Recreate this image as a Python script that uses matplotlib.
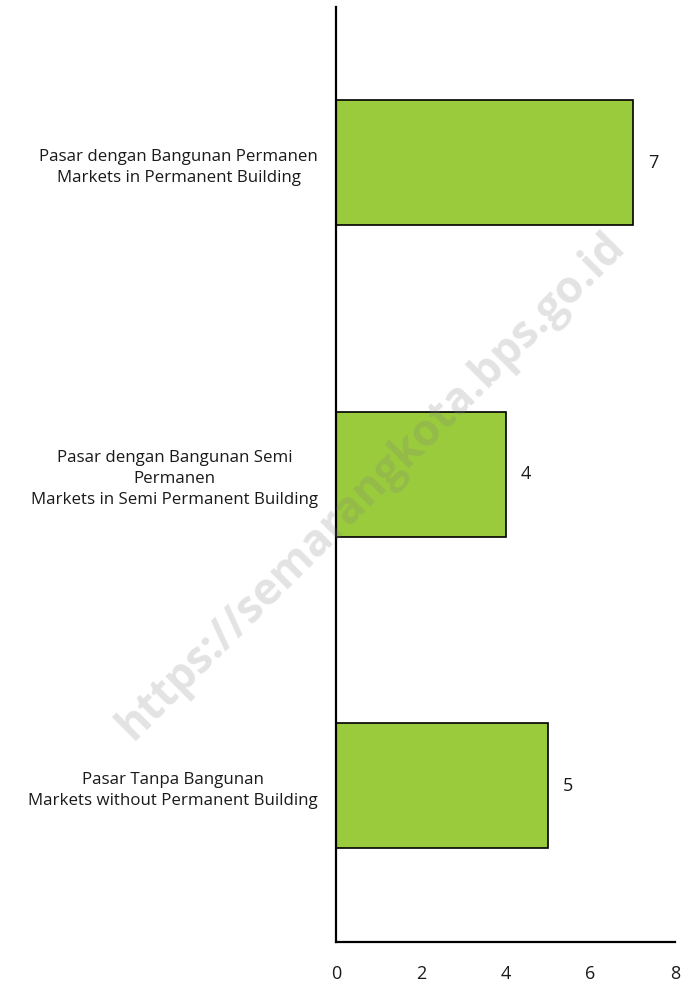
import matplotlib
matplotlib.use('Agg')
import matplotlib.pyplot as plt

categories = ['Pasar dengan Bangunan Permanen\nMarkets in Permanent Building',
              'Pasar dengan Bangunan Semi\nPermanen\nMarkets in Semi Permanent Building',
              'Pasar Tanpa Bangunan\nMarkets without Permanent Building']
values = [7, 4, 5]
xticks = [0, 2, 4, 6, 8]

plt.rcParams['font.family'] = ['Open Sans', 'DejaVu Sans']

fig = plt.figure(figsize=(6.81, 9.83), dpi=100)
ax = fig.add_axes([0.4934, 0.0422, 0.4978, 0.9507])

pos = list(range(len(categories)))
ax.barh(pos, values, height=0.4, color='#9acb3c', edgecolor='black', linewidth=1.2)
for p, v in zip(pos, values):
    ax.text(v + 0.36, p, str(v), va='center', ha='left', fontsize=13, color='#1a1a1a')

ax.set_xlim(0, 8)
ax.set_ylim(2.5, -0.5)
ax.set_xticks(xticks)
ax.set_yticks(pos)
ax.set_yticklabels(categories, multialignment='center', fontsize=12.2, color='#1a1a1a',
                   linespacing=1.45)
ax.tick_params(axis='x', length=0, pad=17, labelsize=13, labelcolor='#1a1a1a')
ax.tick_params(axis='y', length=0, pad=13)
for s in ['top', 'right']:
    ax.spines[s].set_visible(False)
for s in ['left', 'bottom']:
    ax.spines[s].set_linewidth(1.6)

# watermark
fig.text(0.546, 0.505, 'https://semarangkota.bps.go.id', rotation=45, ha='center', va='center',
         fontsize=32, fontweight='bold', color='#808080', alpha=0.22, zorder=10)

fig.savefig('out.png', dpi=100)
